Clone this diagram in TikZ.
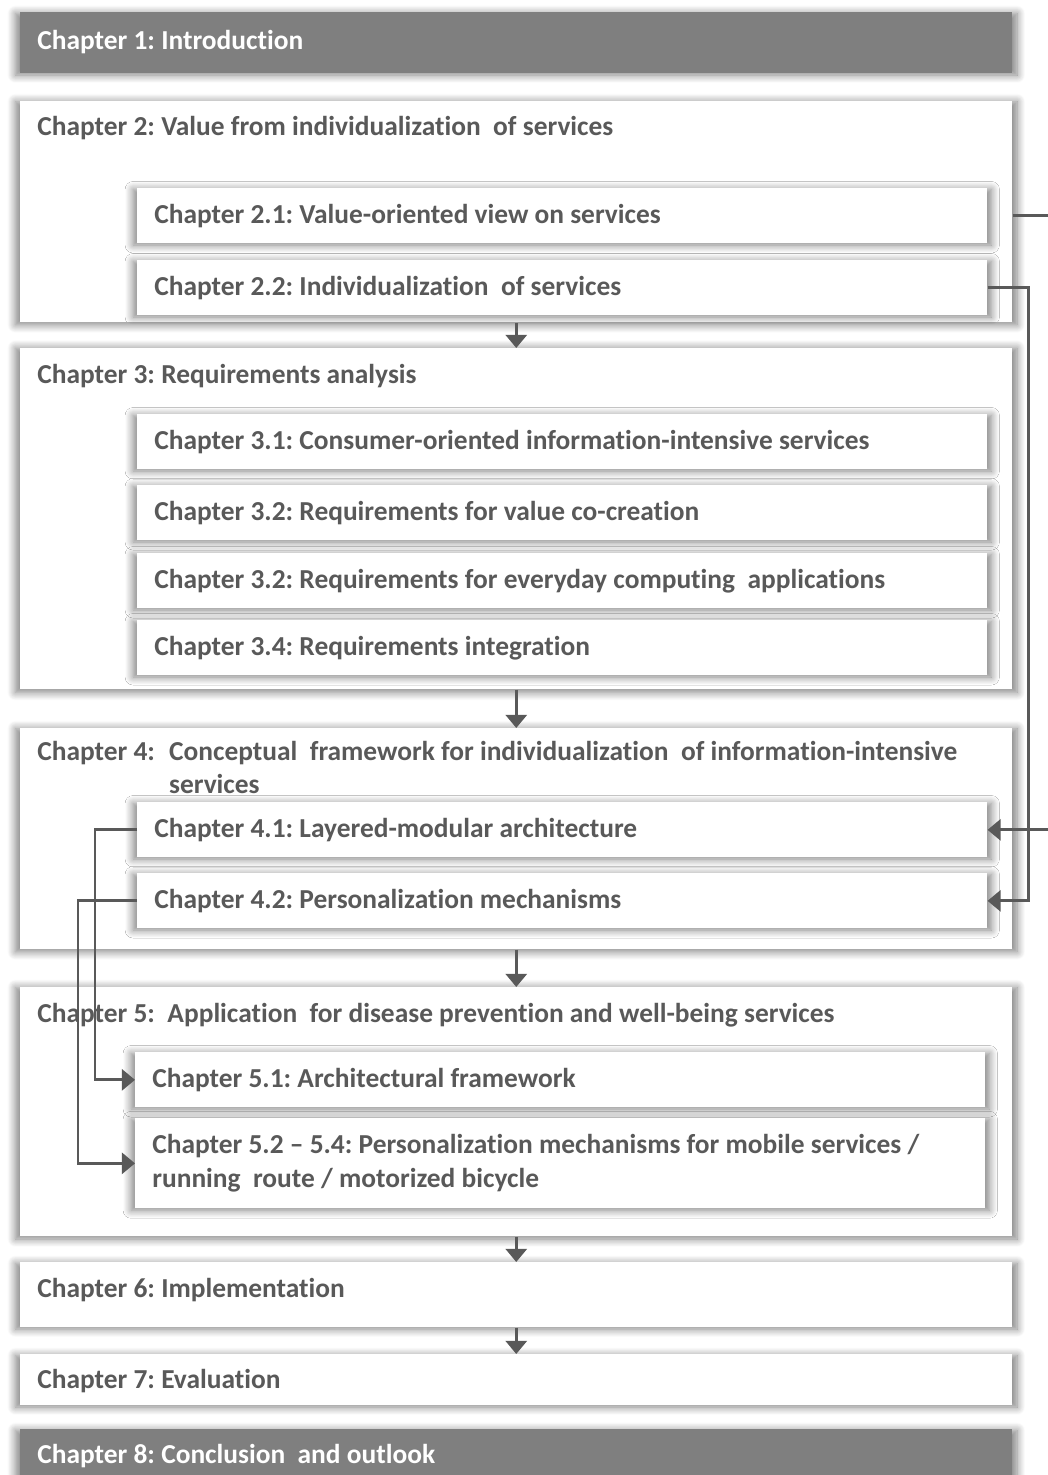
\documentclass[tikz,border=0pt]{standalone}
\usepackage{fontspec}
\setmainfont{Carlito}[Ligatures=NoCommon]
\usepackage{tikz}
\usetikzlibrary{arrows.meta,positioning,shadows.blur}
\definecolor{txt}{HTML}{595959}
\definecolor{boxdark}{HTML}{7F7F7F}
\frenchspacing

\tikzset{
  softshadow/.style={blur shadow={shadow xshift=0pt,shadow yshift=-0.8pt,shadow scale=1.01,shadow blur radius=4.5pt,shadow opacity=50,shadow blur steps=10}},
  outerbox/.style={fill=white,anchor=north west,inner sep=0pt,minimum width=19.84cm,softshadow},
  darkbox/.style={outerbox,fill=boxdark},
  inbox/.style={fill=white,anchor=north west,inner xsep=0.34cm,inner ysep=0pt,minimum width=17cm,minimum height=1.1cm,text width=16.32cm,align=flush left,text=txt,softshadow},
  title/.style={anchor=base west,inner sep=0pt,text=txt},
  conn/.style={draw=txt,line width=1.7pt,-{Triangle[width=12pt,length=7.5pt]}},
}

\begin{document}
\begin{tikzpicture}[x=0.02cm,y=-0.02cm,font=\fontsize{15.6pt}{19pt}\selectfont\bfseries\frenchspacing]
  \clip (0,0) rectangle (1048,1475);

  % chapter frames
  \node[darkbox,minimum height=1.22cm] (c1) at (20,12) {};
  \node[outerbox,minimum height=4.42cm] (c2) at (20,101) {};
  \node[outerbox,minimum height=6.82cm] (c3) at (20,348) {};
  \node[outerbox,minimum height=4.42cm] (c4) at (20,728) {};
  \node[outerbox,minimum height=4.98cm] (c5) at (20,987) {};
  \node[outerbox,minimum height=1.3cm] (c6) at (20,1262) {};
  \node[outerbox,minimum height=1.02cm] (c7) at (20,1354) {};
  \node[darkbox,minimum height=1.5cm] (c8) at (20,1429) {};

  % chapter titles
  \node[title,text=white] (t1) at (37,49) {Chapter 1: Introduction};
  \node[title] (t2) at (37,135) {Chapter 2: Value from individualization\ \ of services};
  \node[title] (t3) at (37,383) {Chapter 3: Requirements analysis};
  \node[title] (t4) at (37,760) {\begin{tabular}[t]{@{}l@{\hspace{8pt}}l@{}}Chapter 4: & Conceptual\ \ framework for individualization\ \ of information-intensive\\ & services\end{tabular}};
  \node[title] (t5) at (37,1022) {Chapter 5:\ \ Application\ \ for disease prevention and well-being services};
  \node[title] (t6) at (37,1297) {Chapter 6: Implementation};
  \node[title] (t7) at (37,1388) {Chapter 7: Evaluation};
  \node[title,text=white] (t8) at (37,1463) {Chapter 8: Conclusion\ \ and outlook};

  % sections
  \node[inbox] (c21) at (137,188) {Chapter 2.1: Value-oriented view on services};
  \node[inbox] (c22) at (137,260) {Chapter 2.2: Individualization\ \ of services};
  \node[inbox] (c31) at (137,414) {Chapter 3.1: Consumer-oriented information-intensive services};
  \node[inbox] (c32) at (137,485) {Chapter 3.2: Requirements for value co-creation};
  \node[inbox] (c33) at (137,553) {Chapter 3.2: Requirements for everyday computing\ \ applications};
  \node[inbox] (c34) at (137,620) {Chapter 3.4: Requirements integration};
  \node[inbox] (c41) at (137,802) {Chapter 4.1: Layered-modular architecture};
  \node[inbox] (c42) at (137,873) {Chapter 4.2: Personalization mechanisms};
  \node[inbox] (c51) at (135,1052) {Chapter 5.1: Architectural framework};
  \node[inbox,minimum height=1.8cm] (c52) at (135,1118) {Chapter 5.2 – 5.4: Personalization mechanisms for mobile services /\\running\ \ route / motorized bicycle};

  % flow between chapters
  \draw[conn] (c2.south) -- (c3.north);
  \draw[conn] (c3.south) -- (c4.north);
  \draw[conn] (c4.south) -- (c5.north);
  \draw[conn] (c5.south) -- (c6.north);
  \draw[conn] (c6.south) -- (c7.north);

  % links between sections
  \draw[conn] (c22.east) -- ++(41,0) |- (c42.east);
  \draw[conn] (c21.east -| c2.east) -- ++(70,0) |- (c41.east);
  \draw[conn] (c41.west) -- ++(-42,0) |- (c51.west);
  \draw[conn] (c42.west) -- ++(-59,0) |- (c52.west);
\end{tikzpicture}
\end{document}
